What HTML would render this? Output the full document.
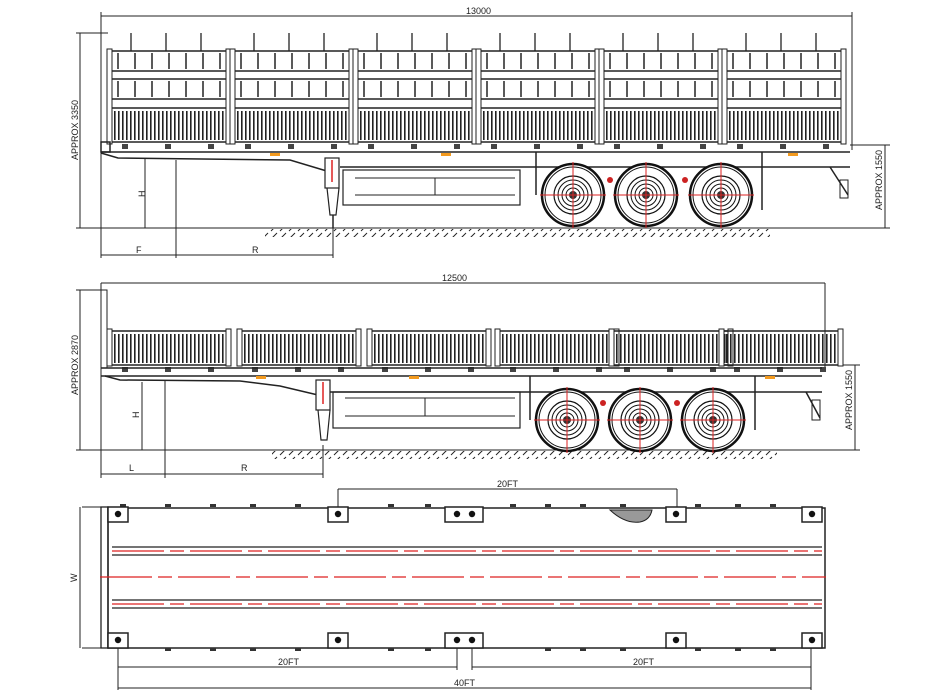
<!DOCTYPE html>
<html><head><meta charset="utf-8"><style>
html,body{margin:0;padding:0;background:#fff;}
svg{display:block;font-family:"Liberation Sans",sans-serif;}
text{font-size:9px;fill:#222;}
</style></head><body>
<svg width="935" height="694" viewBox="0 0 935 694" xmlns="http://www.w3.org/2000/svg">
<defs>
<pattern id="slat" width="4" height="40" patternUnits="userSpaceOnUse"><rect x="0" y="0" width="1.6" height="40" fill="#222"/></pattern>
<pattern id="hatch" width="9" height="8" patternUnits="userSpaceOnUse"><line x1="1" y1="7" x2="7" y2="1" stroke="#222" stroke-width="1"/></pattern>
<pattern id="grid" width="17" height="20" patternUnits="userSpaceOnUse"><line x1="8" y1="0" x2="8" y2="20" stroke="#222" stroke-width="1.5"/></pattern>
<g id="wheel">
<circle r="31" fill="#fff" stroke="#111" stroke-width="2.5"/>
<circle r="28" fill="none" stroke="#111" stroke-width="1"/>
<circle r="19" fill="none" stroke="#111" stroke-width="1.2"/>
<circle r="15" fill="none" stroke="#111" stroke-width="1"/>
<circle r="11" fill="none" stroke="#111" stroke-width="1"/>
<circle r="4" fill="#333"/>
<circle r="7" fill="none" stroke="#111" stroke-width="1"/>
<line x1="-33" y1="0" x2="33" y2="0" stroke="#d22" stroke-width="1"/>
<line x1="0" y1="-33" x2="0" y2="33" stroke="#d22" stroke-width="1"/>
</g>
<g id="sec1">
<rect x="0" y="0" width="118" height="20" fill="none" stroke="#222" stroke-width="1.5"/>
<rect x="0" y="28" width="118" height="20" fill="none" stroke="#222" stroke-width="1.5"/>
<rect x="4" y="2" width="110" height="16" fill="url(#grid)"/>
<rect x="4" y="30" width="110" height="16" fill="url(#grid)"/>
<rect x="0" y="57" width="118" height="34" fill="none" stroke="#222" stroke-width="1.5"/>
<rect x="3" y="60" width="112" height="29" fill="url(#slat)"/>
<rect x="-3" y="-2" width="5" height="95" fill="#fff" stroke="#222"/>
<rect x="116" y="-2" width="5" height="95" fill="#fff" stroke="#222"/>
<rect x="12" y="93" width="6" height="5" fill="#444"/><rect x="55" y="93" width="6" height="5" fill="#444"/><rect x="98" y="93" width="6" height="5" fill="#444"/>
</g>
<g id="sec2">
<rect x="0" y="0" width="118" height="34" fill="none" stroke="#222" stroke-width="1.5"/>
<rect x="3" y="3" width="112" height="29" fill="url(#slat)"/>
<rect x="-3" y="-2" width="5" height="37" fill="#fff" stroke="#222"/>
<rect x="116" y="-2" width="5" height="37" fill="#fff" stroke="#222"/>
<rect x="12" y="36" width="6" height="5" fill="#444"/><rect x="55" y="36" width="6" height="5" fill="#444"/><rect x="98" y="36" width="6" height="5" fill="#444"/>
</g>
<g id="cast"><rect x="0" y="0" width="20" height="15" fill="#fff" stroke="#222" stroke-width="1.5"/><circle cx="10" cy="7" r="3.2" fill="#111"/></g>
</defs>
<g stroke="#222" stroke-width="1" fill="none">
<line x1="101" y1="16" x2="852" y2="16"/><line x1="101" y1="12" x2="101" y2="258"/><line x1="852" y1="12" x2="852" y2="150"/>
<line x1="76" y1="33" x2="108" y2="33"/><line x1="76" y1="228" x2="101" y2="228"/><line x1="80" y1="33" x2="80" y2="228"/>
<line x1="101" y1="33" x2="101" y2="150"/>
<line x1="101" y1="228" x2="850" y2="228"/>
<line x1="101" y1="255" x2="333" y2="255"/><line x1="176" y1="160" x2="176" y2="258"/><line x1="333" y1="225" x2="333" y2="258"/>
<line x1="145" y1="158" x2="145" y2="228"/>
<line x1="850" y1="145" x2="890" y2="145"/><line x1="885" y1="145" x2="885" y2="228"/><line x1="850" y1="228" x2="890" y2="228"/>
</g>
<rect x="265" y="229" width="505" height="8" fill="url(#hatch)"/>
<g>
<g stroke="#222" stroke-width="1.3">
<line x1="131" y1="33" x2="131" y2="51"/><line x1="166" y1="33" x2="166" y2="51"/><line x1="201" y1="33" x2="201" y2="51"/>
<line x1="254" y1="33" x2="254" y2="51"/><line x1="289" y1="33" x2="289" y2="51"/><line x1="324" y1="33" x2="324" y2="51"/>
<line x1="377" y1="33" x2="377" y2="51"/><line x1="412" y1="33" x2="412" y2="51"/><line x1="447" y1="33" x2="447" y2="51"/>
<line x1="500" y1="33" x2="500" y2="51"/><line x1="535" y1="33" x2="535" y2="51"/><line x1="570" y1="33" x2="570" y2="51"/>
<line x1="623" y1="33" x2="623" y2="51"/><line x1="658" y1="33" x2="658" y2="51"/><line x1="693" y1="33" x2="693" y2="51"/>
<line x1="746" y1="33" x2="746" y2="51"/><line x1="781" y1="33" x2="781" y2="51"/><line x1="816" y1="33" x2="816" y2="51"/>
</g>
<use href="#sec1" x="110" y="51"/><use href="#sec1" x="233" y="51"/><use href="#sec1" x="356" y="51"/>
<use href="#sec1" x="479" y="51"/><use href="#sec1" x="602" y="51"/><use href="#sec1" x="725" y="51"/>
<g stroke="#222" stroke-width="1.5" fill="none">
<rect x="101" y="142" width="9" height="10"/>
<line x1="101" y1="152" x2="850" y2="152"/>
<polyline points="101,153 118,158 290,160 330,172"/>
<line x1="340" y1="167" x2="850" y2="167"/>
<rect x="343" y="170" width="177" height="35" stroke-width="1.2"/>
<line x1="355" y1="178" x2="515" y2="178" stroke-width="1"/><line x1="355" y1="195" x2="515" y2="195" stroke-width="1"/>
<line x1="435" y1="178" x2="435" y2="195" stroke-width="1"/>
<rect x="325" y="158" width="14" height="30" stroke-width="1.2" fill="#fff"/>
<polyline points="327,188 330,215 336,215 339,188" stroke-width="1.2"/>
<line x1="333" y1="215" x2="333" y2="228"/>
<line x1="830" y1="167" x2="848" y2="195"/><rect x="840" y="180" width="8" height="18" stroke-width="1"/>
<line x1="536" y1="152" x2="536" y2="195"/><line x1="762" y1="152" x2="762" y2="210"/>
</g>
<line x1="332" y1="160" x2="332" y2="182" stroke="#d22" stroke-width="1.5"/>
<rect x="270" y="153" width="10" height="3" fill="#f39a1e"/><rect x="441" y="153" width="10" height="3" fill="#f39a1e"/><rect x="788" y="153" width="10" height="3" fill="#f39a1e"/>
<circle cx="610" cy="180" r="3" fill="#c22"/><circle cx="685" cy="180" r="3" fill="#c22"/>
<use href="#wheel" x="573" y="195"/><use href="#wheel" x="646" y="195"/><use href="#wheel" x="721" y="195"/>
<text x="466" y="14">13000</text>
<text transform="translate(78,160) rotate(-90)">APPROX 3350</text>
<text transform="translate(882,210) rotate(-90)">APPROX 1550</text>
<text transform="translate(145,197) rotate(-90)">H</text>
<text x="136" y="253">F</text><text x="252" y="253">R</text>

<g stroke="#222" stroke-width="1" fill="none">
<line x1="101" y1="283" x2="825" y2="283"/><line x1="101" y1="283" x2="101" y2="478"/><line x1="825" y1="283" x2="825" y2="370"/>
<rect x="101" y="290" width="6" height="78"/>
<line x1="76" y1="290" x2="101" y2="290"/><line x1="80" y1="290" x2="80" y2="450"/><line x1="76" y1="450" x2="101" y2="450"/>
<line x1="101" y1="450" x2="820" y2="450"/>
<line x1="101" y1="474" x2="323" y2="474"/><line x1="165" y1="380" x2="165" y2="478"/><line x1="323" y1="445" x2="323" y2="478"/>
<line x1="142" y1="382" x2="142" y2="450"/>
<line x1="820" y1="365" x2="860" y2="365"/><line x1="855" y1="365" x2="855" y2="450"/><line x1="820" y1="450" x2="860" y2="450"/>
</g>
<rect x="272" y="451" width="505" height="8" fill="url(#hatch)"/>
<use href="#sec2" x="110" y="331"/><use href="#sec2" x="240" y="331"/><use href="#sec2" x="370" y="331"/>
<use href="#sec2" x="498" y="331"/><use href="#sec2" x="612" y="331"/><use href="#sec2" x="722" y="331"/>
<g stroke="#222" stroke-width="1.5" fill="none">
<line x1="101" y1="368" x2="822" y2="368"/><line x1="101" y1="376" x2="822" y2="376"/>
<polyline points="105,376 120,380 240,381 280,386 318,395"/>
<line x1="330" y1="392" x2="822" y2="392"/>
<rect x="333" y="392" width="187" height="36" stroke-width="1.2"/>
<line x1="345" y1="398" x2="515" y2="398" stroke-width="1"/><line x1="345" y1="416" x2="515" y2="416" stroke-width="1"/>
<line x1="425" y1="398" x2="425" y2="416" stroke-width="1"/>
<rect x="316" y="380" width="14" height="30" stroke-width="1.2" fill="#fff"/>
<polyline points="318,410 321,440 327,440 330,410" stroke-width="1.2"/>
<line x1="806" y1="392" x2="820" y2="418"/><rect x="812" y="400" width="8" height="20" stroke-width="1"/>
<line x1="530" y1="376" x2="530" y2="420"/><line x1="755" y1="376" x2="755" y2="430"/>
</g>
<line x1="323" y1="382" x2="323" y2="404" stroke="#d22" stroke-width="1.5"/>
<rect x="256" y="376" width="10" height="3" fill="#f39a1e"/><rect x="409" y="376" width="10" height="3" fill="#f39a1e"/><rect x="765" y="376" width="10" height="3" fill="#f39a1e"/>
<circle cx="603" cy="403" r="3" fill="#c22"/><circle cx="677" cy="403" r="3" fill="#c22"/>
<use href="#wheel" x="567" y="420"/><use href="#wheel" x="640" y="420"/><use href="#wheel" x="713" y="420"/>
<text x="442" y="281">12500</text>
<text transform="translate(78,395) rotate(-90)">APPROX 2870</text>
<text transform="translate(852,430) rotate(-90)">APPROX 1550</text>
<text transform="translate(139,418) rotate(-90)">H</text>
<text x="129" y="471">L</text><text x="241" y="471">R</text>

<g stroke="#222" stroke-width="1.3" fill="none">
<rect x="101" y="507" width="7" height="141"/>
<rect x="108" y="508" width="717" height="140" stroke-width="1.5"/>
<line x1="112" y1="547" x2="822" y2="547"/><line x1="112" y1="555" x2="822" y2="555"/>
<line x1="112" y1="600" x2="822" y2="600"/><line x1="112" y1="608" x2="822" y2="608"/>
<line x1="82" y1="507" x2="101" y2="507" stroke-width="1"/><line x1="82" y1="648" x2="101" y2="648" stroke-width="1"/><line x1="80" y1="507" x2="80" y2="648" stroke-width="1"/>
<line x1="338" y1="489" x2="677" y2="489" stroke-width="1"/><line x1="338" y1="489" x2="338" y2="512" stroke-width="1"/><line x1="677" y1="489" x2="677" y2="512" stroke-width="1"/>
<line x1="118" y1="667" x2="457" y2="667" stroke-width="1"/><line x1="472" y1="667" x2="811" y2="667" stroke-width="1"/>
<line x1="118" y1="688" x2="811" y2="688" stroke-width="1"/>
<line x1="118" y1="640" x2="118" y2="690" stroke-width="1"/><line x1="457" y1="640" x2="457" y2="670" stroke-width="1"/><line x1="472" y1="640" x2="472" y2="670" stroke-width="1"/><line x1="811" y1="640" x2="811" y2="690" stroke-width="1"/>
</g>
<g stroke="#d22" stroke-width="1.2" stroke-dasharray="52,6,14,6">
<line x1="112" y1="551" x2="822" y2="551"/><line x1="112" y1="604" x2="822" y2="604"/><line x1="100" y1="577" x2="826" y2="577"/>
</g>
<path d="M610,510 Q625,524 640,522 Q650,520 652,510 Z" fill="#999" stroke="#222"/>
<g fill="#333">
<rect x="120" y="504" width="6" height="3"/><rect x="165" y="504" width="6" height="3"/><rect x="210" y="504" width="6" height="3"/><rect x="250" y="504" width="6" height="3"/><rect x="295" y="504" width="6" height="3"/><rect x="388" y="504" width="6" height="3"/><rect x="425" y="504" width="6" height="3"/><rect x="510" y="504" width="6" height="3"/><rect x="545" y="504" width="6" height="3"/><rect x="580" y="504" width="6" height="3"/><rect x="620" y="504" width="6" height="3"/><rect x="695" y="504" width="6" height="3"/><rect x="735" y="504" width="6" height="3"/><rect x="770" y="504" width="6" height="3"/>
<rect x="165" y="648" width="6" height="3"/><rect x="210" y="648" width="6" height="3"/><rect x="250" y="648" width="6" height="3"/><rect x="295" y="648" width="6" height="3"/><rect x="388" y="648" width="6" height="3"/><rect x="425" y="648" width="6" height="3"/><rect x="545" y="648" width="6" height="3"/><rect x="580" y="648" width="6" height="3"/><rect x="620" y="648" width="6" height="3"/><rect x="695" y="648" width="6" height="3"/><rect x="735" y="648" width="6" height="3"/><rect x="770" y="648" width="6" height="3"/>
</g>
<use href="#cast" x="108" y="507"/><use href="#cast" x="328" y="507"/><use href="#cast" x="666" y="507"/><use href="#cast" x="802" y="507"/>
<use href="#cast" x="108" y="633"/><use href="#cast" x="328" y="633"/><use href="#cast" x="666" y="633"/><use href="#cast" x="802" y="633"/>
<rect x="445" y="507" width="38" height="15" fill="#fff" stroke="#222" stroke-width="1.5"/><circle cx="457" cy="514" r="3.2" fill="#111"/><circle cx="472" cy="514" r="3.2" fill="#111"/>
<rect x="445" y="633" width="38" height="15" fill="#fff" stroke="#222" stroke-width="1.5"/><circle cx="457" cy="640" r="3.2" fill="#111"/><circle cx="472" cy="640" r="3.2" fill="#111"/>
<text x="497" y="487">20FT</text>
<text x="278" y="665">20FT</text><text x="633" y="665">20FT</text>
<text x="454" y="686">40FT</text>
<text transform="translate(77,582) rotate(-90)">W</text>
</g>
</svg>
</body></html>
